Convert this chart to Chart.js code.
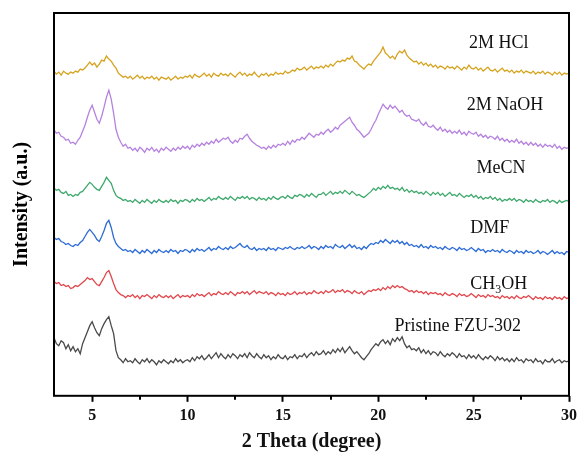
<!DOCTYPE html>
<html>
<head>
<meta charset="utf-8">
<script src="https://cdn.jsdelivr.net/npm/chart.js@4.4.1/dist/chart.umd.min.js"></script>
<style>
  html,body{margin:0;padding:0;background:#fff;}
  #wrap{width:581px;height:457px;position:relative;}
</style>
</head>
<body>
<div id="wrap"><canvas id="xrd"></canvas></div>
<script>
/* XRD stability patterns, stacked with vertical offsets (a.u.), 0.125 deg step */

const twoTheta = [
  3,3.125,3.25,3.375,3.5,3.625,3.75,3.875,
  4,4.125,4.25,4.375,4.5,4.625,4.75,4.875,
  5,5.125,5.25,5.375,5.5,5.625,5.75,5.875,
  6,6.125,6.25,6.375,6.5,6.625,6.75,6.875,
  7,7.125,7.25,7.375,7.5,7.625,7.75,7.875,
  8,8.125,8.25,8.375,8.5,8.625,8.75,8.875,
  9,9.125,9.25,9.375,9.5,9.625,9.75,9.875,
  10,10.125,10.25,10.375,10.5,10.625,10.75,10.875,
  11,11.125,11.25,11.375,11.5,11.625,11.75,11.875,
  12,12.125,12.25,12.375,12.5,12.625,12.75,12.875,
  13,13.125,13.25,13.375,13.5,13.625,13.75,13.875,
  14,14.125,14.25,14.375,14.5,14.625,14.75,14.875,
  15,15.125,15.25,15.375,15.5,15.625,15.75,15.875,
  16,16.125,16.25,16.375,16.5,16.625,16.75,16.875,
  17,17.125,17.25,17.375,17.5,17.625,17.75,17.875,
  18,18.125,18.25,18.375,18.5,18.625,18.75,18.875,
  19,19.125,19.25,19.375,19.5,19.625,19.75,19.875,
  20,20.125,20.25,20.375,20.5,20.625,20.75,20.875,
  21,21.125,21.25,21.375,21.5,21.625,21.75,21.875,
  22,22.125,22.25,22.375,22.5,22.625,22.75,22.875,
  23,23.125,23.25,23.375,23.5,23.625,23.75,23.875,
  24,24.125,24.25,24.375,24.5,24.625,24.75,24.875,
  25,25.125,25.25,25.375,25.5,25.625,25.75,25.875,
  26,26.125,26.25,26.375,26.5,26.625,26.75,26.875,
  27,27.125,27.25,27.375,27.5,27.625,27.75,27.875,
  28,28.125,28.25,28.375,28.5,28.625,28.75,28.875,
  29,29.125,29.25,29.375,29.5,29.625,29.75,29.875,
  30
];

const hcl = [
  324,321,323,320,324,322,321,323, 322,324,323,326,325,327,330,333,
  330,332,328,331,335,334,339,336, 334,330,327,322,320,318,319,317,
  319,316,318,320,317,319,316,318, 317,319,316,318,315,318,317,316,
  318,315,317,319,316,318,317,319, 318,320,317,321,319,318,320,322,
  319,321,318,322,320,319,322,320, 321,319,322,320,318,321,323,320,
  322,319,321,320,323,320,318,321, 320,322,319,321,320,323,321,322,
  321,324,322,323,325,324,327,325, 326,328,325,327,329,326,328,327,
  329,327,330,328,331,329,332,334, 333,335,334,337,336,339,334,333,
  330,328,326,329,331,330,334,337, 340,343,348,342,340,337,339,336,
  341,344,342,345,340,337,335,333, 334,331,333,330,332,329,331,328,
  330,327,329,328,326,329,327,328, 326,329,327,325,328,326,330,327,
  326,328,325,327,324,326,328,325, 324,326,323,325,327,324,325,323,
  325,322,324,323,325,322,324,323, 322,324,321,323,322,324,321,323,
  322,320,323,321,323,320,322,321, 322
];
const naoh = [
  265,262,263,259,258,255,256,252, 253,251,255,258,264,270,278,285,
  290,283,276,272,279,288,298,305, 296,282,266,258,253,249,251,247,
  248,245,247,244,248,246,243,247, 245,248,244,246,243,247,245,248,
  246,244,247,245,248,246,249,247, 249,246,250,248,251,249,252,250,
  253,251,254,252,256,253,255,257, 256,258,254,252,255,253,257,256,
  259,261,257,254,252,250,249,247, 248,246,249,247,250,248,251,250,
  252,250,254,251,255,253,256,255, 258,256,259,262,260,258,261,260,
  263,261,264,266,263,265,268,266, 270,272,274,276,278,273,270,266,
  264,261,258,260,262,266,271,275, 281,286,291,288,286,290,287,289,
  286,283,285,281,279,280,276,275, 274,276,272,270,273,269,268,270,
  267,265,268,264,266,263,265,262, 264,262,265,261,263,260,264,262,
  261,263,259,261,258,260,257,259, 258,256,259,255,257,254,256,253,
  255,253,256,252,254,251,253,250, 253,250,252,249,251,248,251,249,
  250,248,251,247,249,246,248,247, 248
];
const mecn = [
  207,205,206,203,202,204,200,201, 199,201,200,203,204,207,210,213,
  211,208,206,205,209,213,218,215, 212,205,200,198,197,195,196,194,
  195,193,196,194,192,195,193,196, 194,192,195,193,196,194,193,195,
  193,196,194,195,192,195,194,196, 195,193,196,194,197,195,196,194,
  196,198,195,197,196,199,197,196, 198,196,199,197,195,198,197,199,
  197,199,196,198,197,195,198,196, 197,195,198,196,199,197,196,198,
  199,197,200,198,197,200,199,201, 200,198,201,199,202,200,198,201,
  201,203,200,202,204,201,203,202, 204,202,205,203,201,204,202,200,
  201,199,198,200,202,204,207,205, 208,206,209,207,210,207,208,206,
  207,205,208,204,206,203,205,203, 204,202,203,201,204,202,200,203,
  201,203,200,202,199,201,203,200, 201,199,202,200,198,200,199,201,
  198,200,197,199,196,198,197,199, 196,198,195,197,194,196,195,197,
  195,197,194,196,195,193,196,194, 195,193,196,194,193,195,194,196,
  193,195,194,192,195,193,194,195, 194
];
const dmf = [
  158,156,157,154,153,151,152,150, 149,151,150,153,155,159,163,166,
  163,160,156,154,159,165,172,175, 168,158,152,149,147,145,146,144,
  145,143,146,144,142,145,143,146, 144,142,145,143,146,144,143,145,
  143,146,144,145,142,145,144,146, 145,143,146,144,147,145,146,144,
  146,148,145,147,146,149,147,146, 148,146,149,147,148,150,152,149,
  148,150,147,146,148,145,147,146, 147,145,148,146,147,145,148,147,
  146,148,147,149,147,146,148,147, 149,147,148,150,147,149,148,146,
  149,147,150,148,149,147,151,149, 148,150,147,149,151,148,150,147,
  148,146,149,147,150,152,151,153, 152,155,153,156,154,152,155,153,
  155,152,154,151,153,150,151,149, 150,148,151,148,149,147,150,148,
  149,147,148,146,149,147,146,148, 147,145,148,146,147,145,146,148,
  146,144,147,145,146,143,145,144, 146,144,145,143,146,144,143,145,
  144,142,145,143,144,142,145,143, 144,142,143,145,142,144,143,141,
  143,145,142,144,142,143,141,144, 143
];
const methanol = [
  114,112,113,110,111,109,110,107, 108,110,109,111,113,115,118,116,
  117,114,111,110,114,118,123,125, 119,112,106,103,101,100,98,100,
  99,101,98,100,97,100,99,101, 99,97,100,98,101,99,98,100,
  98,100,97,99,101,98,100,99, 100,98,101,99,102,100,101,99,
  101,103,100,102,101,104,102,101, 103,101,104,102,100,103,102,104,
  102,104,101,103,105,102,104,103, 102,104,101,103,102,100,103,101,
  102,100,103,101,102,104,101,103, 102,104,101,103,102,105,103,102,
  104,102,105,103,104,106,103,105, 104,106,103,105,104,102,105,103,
  102,104,101,103,105,104,106,105, 107,105,108,106,109,107,110,108,
  110,108,109,107,106,104,105,103, 105,103,104,102,104,101,103,102,
  103,101,102,100,103,101,100,102, 101,99,102,100,101,99,100,102,
  100,98,101,99,100,98,101,99, 100,98,99,97,100,98,99,97,
  99,97,100,98,97,99,98,100, 98,96,99,97,98,96,99,97,
  98,96,99,97,98,96,99,97, 98
];
const pristine = [
  58,52,50,55,53,47,51,45, 49,44,47,42,52,58,64,70,
  74,68,63,60,67,72,76,79, 70,62,45,38,36,33,37,34,
  35,33,37,34,32,36,34,37, 33,36,34,31,35,33,36,34,
  32,35,33,37,34,36,33,35, 36,34,38,35,39,37,40,36,
  38,41,37,40,43,38,42,39, 37,41,38,42,40,37,41,39,
  42,38,43,40,38,42,39,37, 41,38,40,36,39,37,41,38,
  37,40,36,39,38,41,37,40, 39,42,38,41,43,40,44,41,
  42,45,41,44,42,46,43,47, 44,48,43,46,49,45,42,44,
  41,38,36,39,42,46,49,52, 50,54,56,52,55,51,57,54,
  58,55,59,52,48,50,46,47, 45,48,43,46,42,45,41,44,
  43,40,44,41,39,42,40,43, 41,38,42,39,40,37,41,38,
  40,37,41,38,36,39,37,40, 38,35,39,36,38,35,37,34,
  37,34,38,35,36,33,37,35, 36,33,37,34,35,32,36,34,
  34,37,33,35,36,33,35,34, 35
];

const seriesNames  = ['2M HCl','2M NaOH','MeCN','DMF','CH_3OH','Pristine FZU-302'];
const seriesColors = ['#D6A31E','#B682DF','#3DA86B','#2C6CD6','#E0474C','#4a4a4a'];
const labelX = [26.32, 26.64, 26.43, 25.85, 26.32, 24.17];
const labelY = [352, 290, 227, 167, 111, 69];

const majorTicks = [5,10,15,20,25,30];
const minorTicks = [7.5,12.5,17.5,22.5,27.5];

const SERIF = '"Liberation Serif","Times New Roman",serif';

function pts(ys){ return ys.map((y,i)=>({x:twoTheta[i], y})); }

const allSeries = [hcl, naoh, mecn, dmf, methanol, pristine];

// frame, minor ticks, y title, curve labels
const decor = {
  id:'decor',
  afterDraw(chart){
    const {ctx, chartArea:a, scales:{x,y}} = chart;
    ctx.save();
    ctx.strokeStyle = '#000';
    ctx.lineWidth = 2;
    ctx.strokeRect(a.left, a.top, a.right-a.left, a.bottom-a.top);
    minorTicks.forEach(v=>{
      const px = Math.round(x.getPixelForValue(v));
      ctx.beginPath(); ctx.moveTo(px, a.bottom); ctx.lineTo(px, a.bottom+4); ctx.stroke();
    });
    // y title
    ctx.fillStyle = '#000';
    ctx.font = 'bold 20px '+SERIF;
    ctx.textAlign = 'center'; ctx.textBaseline = 'middle';
    ctx.translate(22, (a.top+a.bottom)/2);
    ctx.rotate(-Math.PI/2);
    ctx.fillText('Intensity (a.u.)', 0, 0);
    ctx.restore();

    // curve labels, "_3" -> subscript 3
    ctx.save();
    ctx.fillStyle = '#111';
    ctx.textBaseline = 'middle';
    seriesNames.forEach((name,i)=>{
      const cx = x.getPixelForValue(labelX[i]);
      const cy = y.getPixelForValue(labelY[i]);
      const parts = name.split(/_(\d)/);
      const big = '18px '+SERIF, small = '12px '+SERIF;
      let w = 0;
      parts.forEach((p,k)=>{ ctx.font = k%2 ? small : big; w += ctx.measureText(p).width; });
      let px = cx - w/2;
      ctx.textAlign = 'left';
      parts.forEach((p,k)=>{
        ctx.font = k%2 ? small : big;
        ctx.fillText(p, px, cy + (k%2 ? 5 : 0));
        px += ctx.measureText(p).width;
      });
    });
    ctx.restore();
  }
};

new Chart(document.getElementById('xrd'), {
  type:'line',
  data:{
    datasets: allSeries.map((ys,i)=>({
      label: seriesNames[i],
      data: pts(ys),
      borderColor: seriesColors[i],
      borderWidth: 1.3,
      pointRadius: 0,
      tension: 0,
      fill: false
    }))
  },
  options:{
    responsive:true,
    maintainAspectRatio:false,
    animation:false,
    layout:{padding:{left:54, right:9, top:13, bottom:0}},
    plugins:{legend:{display:false}, tooltip:{enabled:false}},
    scales:{
      x:{
        type:'linear', min:3, max:30,
        afterBuildTicks(s){ s.ticks = majorTicks.map(v=>({value:v})); },
        grid:{display:true, drawOnChartArea:false, drawTicks:true, tickLength:6, tickColor:'#000', tickWidth:2},
        border:{display:false},
        ticks:{color:'#111', padding:4, maxRotation:0, font:{family:SERIF, size:16, weight:'bold'}},
        title:{display:true, text:'2 Theta (degree)', color:'#111', padding:{top:1, bottom:3},
               font:{family:SERIF, size:20, weight:'bold'}}
      },
      y:{ display:false, min:0, max:382 }
    }
  },
  plugins:[decor]
});
</script>
</body>
</html>
